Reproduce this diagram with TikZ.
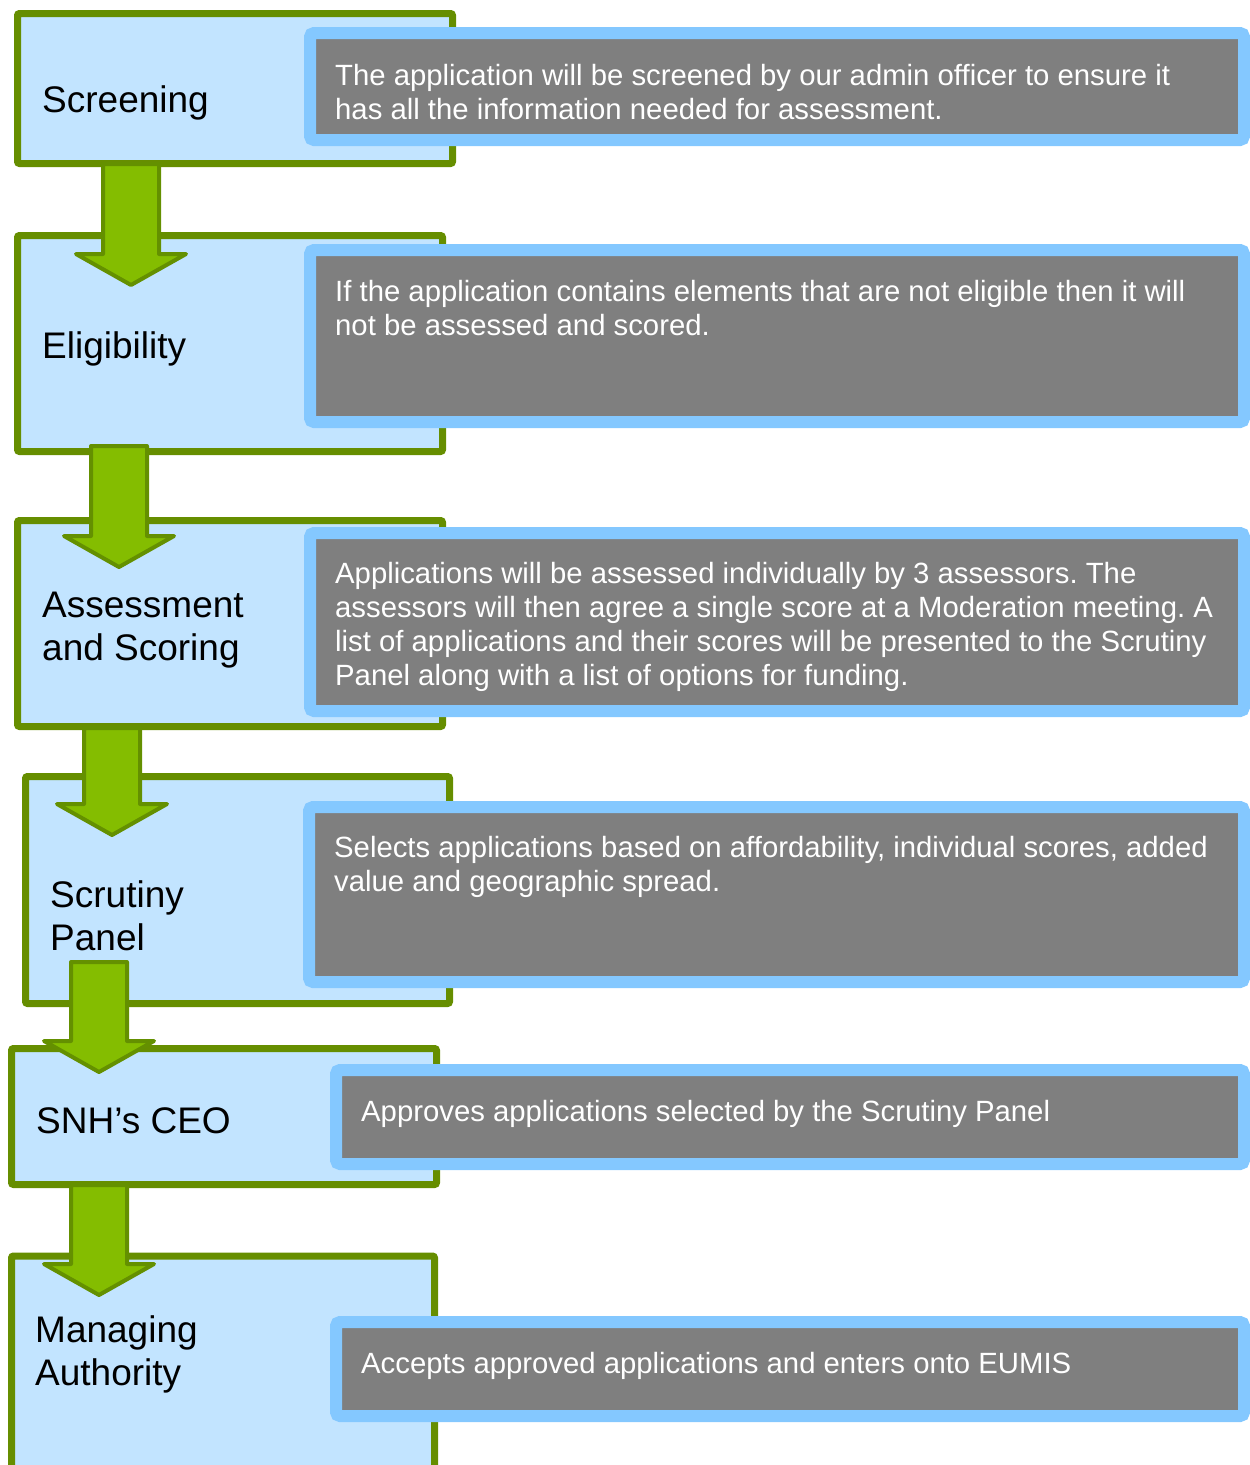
\documentclass[tikz,border=0pt]{standalone}
\usepackage{fontspec}
\setmainfont{Liberation Sans}
\usepackage{xcolor}
\usepackage{tikz}
\frenchspacing

\definecolor{stagefill}{HTML}{C2E4FF}
\definecolor{stageline}{HTML}{668E00}
\definecolor{arrowfill}{HTML}{84BD00}
\definecolor{arrowline}{HTML}{649000}
\definecolor{notefill}{HTML}{7F7F7F}
\definecolor{noteline}{HTML}{84C8FF}

\begin{document}
\begin{tikzpicture}[x=1pt, y=-1pt,
    stage/.style={draw=stageline, fill=stagefill, line width=7pt, rounded corners=2pt, inner sep=0pt},
    note/.style={draw=noteline, fill=notefill, line width=12pt, rounded corners=4pt, inner sep=0pt},
    flowarrow/.style={draw=arrowline, fill=arrowfill, line width=4pt, line join=round},
    stagetext/.style={anchor=base west, align=left, inner sep=0pt, font=\fontsize{37}{43}\selectfont},
    notetext/.style={anchor=base west, align=left, inner sep=0pt, text=white, font=\fontsize{29.3}{34}\selectfont}]
    \useasboundingbox (0,0) rectangle (1250,1465);
    \clip (0,0) rectangle (1250,1465);
    % stages
    \node[stage, minimum width=435, minimum height=150] (screen) at (235,88.5) {};
    \node[stage, minimum width=425, minimum height=216] (elig) at (230,343.5) {};
    \node[stage, minimum width=425, minimum height=206] (assess) at (230,623.5) {};
    \node[stage, minimum width=424, minimum height=227] (panel) at (237.5,890) {};
    \node[stage, minimum width=425, minimum height=136] (ceo) at (224,1116.5) {};
    \node[stage, minimum width=423, minimum height=224] (manage) at (223,1368) {};
    % notes
    \node[note, minimum width=934, minimum height=107] (screennote) at (777,86.5) {};
    \node[note, minimum width=934, minimum height=172] (elignote) at (777,336) {};
    \node[note, minimum width=934, minimum height=178] (assessnote) at (777,622) {};
    \node[note, minimum width=935, minimum height=175] (panelnote) at (776.5,894.5) {};
    \node[note, minimum width=908, minimum height=94] (ceonote) at (790,1117) {};
    \node[note, minimum width=908, minimum height=94] (managenote) at (790,1369) {};
    % arrows
    \foreach \x/\t/\e in {131/164/285, 119/446/567, 112/728/835, 99/962/1072, 99/1185/1295}
        \draw[flowarrow] (\x-28,\t) -- (\x-28,\e-31) -- (\x-55,\e-31) -- (\x,\e)
            -- (\x+55,\e-31) -- (\x+28,\e-31) -- (\x+28,\t) -- cycle;
    % stage labels (base = last line)
    \node[stagetext] (screenlbl) at (42,112) {Screening};
    \node[stagetext] (eliglbl) at (42,358) {Eligibility};
    \node[stagetext] (assesslbl) at (42,660) {Assessment\\and Scoring};
    \node[stagetext] (panellbl) at (50,950) {Scrutiny\\Panel};
    \node[stagetext] (ceolbl) at (36,1133) {SNH’s CEO};
    \node[stagetext] (managelbl) at (35,1385) {Managing\\Authority};
    % note texts
    \node[notetext] (screentxt) at (335,119) {The application will be screened by our admin officer to ensure it\\has all the information needed for assessment.};
    \node[notetext] (eligtxt) at (335,335) {If the application contains elements that are not eligible then it will\\not be assessed and scored.};
    \node[notetext] (assesstxt) at (335,685) {Applications will be assessed individually by 3 assessors. The\\assessors will then agree a single score at a Moderation meeting. A\\list of applications and their scores will be presented to the Scrutiny\\Panel along with a list of options for funding.};
    \node[notetext] (paneltxt) at (334,891) {Selects applications based on affordability, individual scores, added\\value and geographic spread.};
    \node[notetext] (ceotxt) at (361,1121) {Approves applications selected by the Scrutiny Panel};
    \node[notetext] (managetxt) at (361,1373) {Accepts approved applications and enters onto EUMIS};
\end{tikzpicture}
\end{document}
